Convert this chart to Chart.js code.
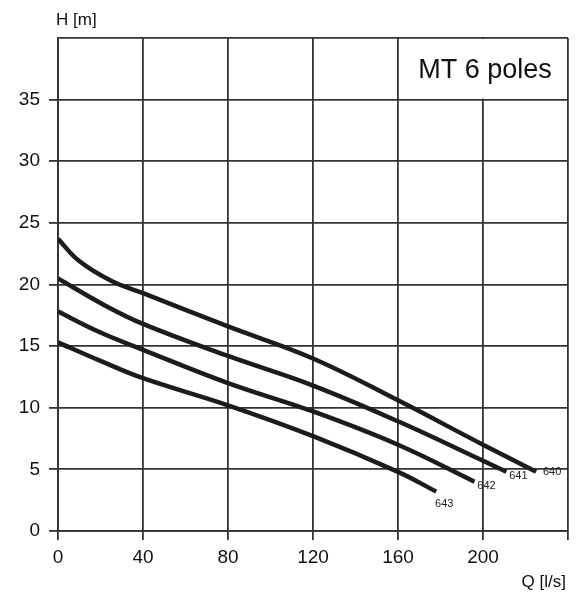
<!DOCTYPE html>
<html>
<head>
<meta charset="utf-8">
<script src="https://cdn.jsdelivr.net/npm/chart.js@4"></script>
<style>
  html, body { margin: 0; padding: 0; background: #fff; }
  #wrap { width: 576px; height: 595px; }
</style>
</head>
<body>
<div id="wrap"><canvas id="chart" width="576" height="595"></canvas></div>
<script>
// Q [l/s] sample points for each curve
const flow640 = [0, 10, 25, 40, 80, 120, 160, 200, 225];
const head640 = [23.7, 21.9, 20.3, 19.3, 16.6, 14.0, 10.6, 7.0, 4.8];

const flow641 = [0, 20, 40, 80, 120, 160, 200, 211];
const head641 = [20.5, 18.5, 16.8, 14.2, 11.8, 8.9, 5.7, 4.8];

const flow642 = [0, 20, 40, 80, 120, 160, 196];
const head642 = [17.8, 16.1, 14.7, 12.0, 9.7, 7.0, 4.0];

const flow643 = [0, 20, 40, 80, 120, 160, 178];
const head643 = [15.3, 13.8, 12.4, 10.2, 7.7, 4.8, 3.2];

const curveNames = ["640", "641", "642", "643"];
const xTicks = [0, 40, 80, 120, 160, 200];
const yTicks = [0, 5, 10, 15, 20, 25, 30, 35];

const FONT = "Arial, 'Liberation Sans', sans-serif";
const GRID = "#333333";

function toPoints(xs, ys) {
  return xs.map((x, i) => ({ x: x, y: ys[i] }));
}

function curve(xs, ys) {
  return {
    data: toPoints(xs, ys),
    borderColor: "#1c1c1c",
    borderWidth: 4.5,
    pointRadius: 0,
    tension: 0.4,
    fill: false
  };
}

// label offsets relative to curve end point (pixels)
const labelOffsets = {
  "640": [16, 0],
  "641": [12, 4],
  "642": [12, 4],
  "643": [8, 12]
};

const extrasPlugin = {
  id: "extras",
  beforeDatasetsDraw(chart) {
    const { ctx, scales } = chart;
    const x = scales.x;
    const y = scales.y;
    const left = x.getPixelForValue(160);
    const right = x.getPixelForValue(240);
    const top = y.getPixelForValue(40);
    const bottom = y.getPixelForValue(35);

    ctx.save();
    ctx.fillStyle = "#fff";
    ctx.fillRect(left + 1, top + 1, right - left - 2, bottom - top - 2);
    ctx.fillStyle = "#111";
    ctx.font = "27px " + FONT;
    ctx.textAlign = "center";
    ctx.textBaseline = "middle";
    ctx.fillText("MT 6 poles", (left + right) / 2 + 2, (top + bottom) / 2 + 2);
    ctx.restore();
  },
  afterDatasetsDraw(chart) {
    const { ctx, scales } = chart;
    ctx.save();
    ctx.fillStyle = "#222";
    ctx.font = "11px " + FONT;
    ctx.textAlign = "center";
    ctx.textBaseline = "middle";
    chart.data.datasets.forEach((dataset, index) => {
      const last = dataset.data[dataset.data.length - 1];
      const name = curveNames[index];
      const offset = labelOffsets[name];
      ctx.fillText(
        name,
        scales.x.getPixelForValue(last.x) + offset[0],
        scales.y.getPixelForValue(last.y) + offset[1]
      );
    });

    ctx.fillStyle = "#111";
    ctx.font = "17px " + FONT;
    ctx.textAlign = "left";
    ctx.textBaseline = "alphabetic";
    ctx.fillText("H [m]", 56, 25);
    ctx.textAlign = "right";
    ctx.fillText("Q [l/s]", 566, 587);
    ctx.restore();
  }
};

new Chart(document.getElementById("chart"), {
  type: "line",
  data: {
    datasets: [
      curve(flow640, head640),
      curve(flow641, head641),
      curve(flow642, head642),
      curve(flow643, head643)
    ]
  },
  options: {
    responsive: false,
    animation: false,
    layout: {
      padding: { top: 38, right: 8, left: 0, bottom: 0 }
    },
    plugins: {
      legend: { display: false },
      tooltip: { enabled: false }
    },
    scales: {
      x: {
        type: "linear",
        min: 0,
        max: 240,
        afterFit(scale) {
          scale.height = 64;
        },
        afterBuildTicks(scale) {
          scale.ticks = xTicks.concat([240]).map((v) => ({ value: v }));
        },
        ticks: {
          color: "#111",
          padding: 6,
          maxRotation: 0,
          font: { size: 19, family: FONT },
          callback: (value) => (xTicks.includes(value) ? String(value) : "")
        },
        grid: {
          color: GRID,
          lineWidth: 1.8,
          tickLength: 9,
          tickColor: GRID
        },
        border: { color: GRID, width: 1.8 }
      },
      y: {
        type: "linear",
        min: 0,
        max: 40,
        afterFit(scale) {
          scale.width = 58;
        },
        afterBuildTicks(scale) {
          scale.ticks = yTicks.concat([40]).map((v) => ({ value: v }));
        },
        ticks: {
          color: "#111",
          padding: 9,
          font: { size: 19, family: FONT },
          callback: (value) => (yTicks.includes(value) ? String(value) : "")
        },
        grid: {
          color: GRID,
          lineWidth: 1.8,
          tickLength: 9,
          tickColor: (context) =>
            context.tick && context.tick.value === 40 ? "rgba(0,0,0,0)" : GRID
        },
        border: { color: GRID, width: 1.8 }
      }
    }
  },
  plugins: [extrasPlugin]
});
</script>
</body>
</html>
